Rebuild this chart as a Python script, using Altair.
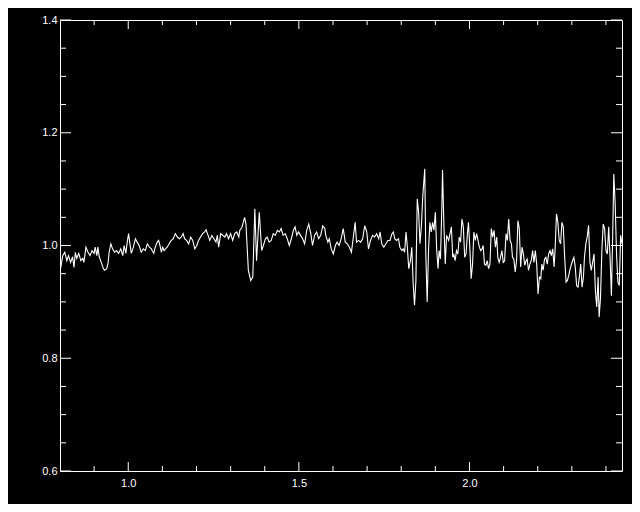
import altair as alt
import pandas as pd

# ---- spectrum samples (wavelength, flux) ----
wave_a = [0.802, 0.808, 0.814, 0.820, 0.825, 0.831, 0.837, 0.841, 0.845, 0.849,
          0.855, 0.861, 0.867, 0.870, 0.876, 0.882, 0.888, 0.894, 0.900, 0.903,
          0.908, 0.911, 0.915, 0.921, 0.927, 0.931, 0.937, 0.941, 0.944, 0.949,
          0.954, 0.960, 0.966, 0.972, 0.978, 0.984, 0.988, 0.993, 0.997, 1.001,
          1.005, 1.009, 1.015, 1.021, 1.026, 1.032, 1.038, 1.044, 1.050, 1.056,
          1.062, 1.068]
flux_a = [0.960, 0.982, 0.988, 0.973, 0.982, 0.970, 0.980, 0.961, 0.988, 0.977,
          0.986, 0.973, 0.977, 0.970, 0.997, 0.988, 0.982, 0.991, 0.986, 0.997,
          0.982, 0.997, 0.980, 0.970, 0.959, 0.956, 0.959, 0.970, 0.988, 1.003,
          0.994, 0.988, 0.991, 0.986, 0.994, 0.982, 1.000, 0.986, 1.006, 1.021,
          1.003, 0.986, 0.997, 1.012, 1.006, 1.000, 0.988, 0.994, 0.991, 1.003,
          0.997, 0.994]

wave_b = [1.070, 1.075, 1.079, 1.085, 1.089, 1.093, 1.097, 1.101, 1.105, 1.109,
          1.114, 1.120, 1.126, 1.132, 1.138, 1.144, 1.150, 1.155, 1.161, 1.165,
          1.171, 1.177, 1.183, 1.189, 1.195, 1.201, 1.206, 1.212, 1.218, 1.224,
          1.228, 1.234, 1.239, 1.245, 1.251, 1.257, 1.261, 1.265, 1.271, 1.277,
          1.283, 1.288, 1.294, 1.300, 1.306, 1.312, 1.318, 1.324, 1.327, 1.333,
          1.337, 1.341, 1.345]
flux_b = [0.991, 0.986, 0.997, 1.006, 1.009, 1.000, 0.988, 0.997, 0.991, 0.994,
          0.997, 1.003, 1.009, 1.012, 1.021, 1.015, 1.012, 1.015, 1.021, 1.012,
          1.009, 1.003, 1.015, 1.009, 0.994, 1.000, 1.009, 1.015, 1.021, 1.024,
          1.028, 1.018, 1.009, 1.018, 1.012, 1.006, 1.018, 0.997, 1.021, 1.018,
          1.015, 1.021, 1.012, 1.021, 1.009, 1.021, 1.024, 1.015, 1.027, 1.032,
          1.041, 1.050, 1.038]

wave_c = [1.352, 1.359, 1.365, 1.371, 1.376, 1.384, 1.391, 1.396, 1.402, 1.407,
          1.413, 1.419, 1.425, 1.431, 1.437, 1.443, 1.448, 1.454, 1.460, 1.466,
          1.472, 1.478, 1.484, 1.489, 1.494, 1.499, 1.505, 1.511, 1.517, 1.523,
          1.529, 1.535, 1.540, 1.546, 1.552, 1.558, 1.564, 1.570, 1.576, 1.579,
          1.585, 1.589, 1.595, 1.601, 1.607, 1.612, 1.618, 1.624]
flux_c = [0.956, 0.938, 0.944, 1.065, 0.973, 1.059, 0.991, 1.000, 1.012, 1.015,
          1.006, 1.009, 1.021, 1.018, 1.027, 1.024, 1.030, 1.018, 1.021, 1.012,
          1.000, 1.012, 1.027, 1.033, 1.018, 1.024, 1.018, 1.012, 1.003, 1.027,
          1.038, 1.021, 1.000, 1.018, 1.024, 1.012, 1.018, 1.035, 1.030, 1.018,
          1.006, 1.012, 0.994, 0.985, 1.000, 1.006, 1.000, 1.012]

wave_d = [1.630, 1.636, 1.642, 1.648, 1.654, 1.659, 1.665, 1.669, 1.675, 1.681,
          1.687, 1.693, 1.699, 1.704, 1.710, 1.716, 1.722, 1.728, 1.734, 1.738,
          1.743, 1.749, 1.755, 1.761]
flux_d = [1.030, 1.006, 1.003, 0.997, 0.988, 1.012, 1.041, 1.006, 1.009, 1.006,
          1.012, 1.035, 1.024, 0.994, 1.009, 1.018, 1.015, 1.021, 1.012, 1.024,
          1.003, 0.997, 1.003, 1.009]

wave_e = [1.767, 1.773, 1.777, 1.781, 1.786, 1.792, 1.796, 1.802, 1.806, 1.810,
          1.814, 1.818, 1.822, 1.827, 1.831, 1.835, 1.839, 1.843, 1.847, 1.851,
          1.855, 1.859, 1.863, 1.869, 1.872, 1.876, 1.880, 1.884, 1.888, 1.892,
          1.896, 1.900, 1.904, 1.908, 1.911, 1.915, 1.919, 1.921, 1.925, 1.929,
          1.933, 1.939,
          1.943, 1.947, 1.951, 1.954, 1.958, 1.962, 1.966, 1.970, 1.974, 1.978,
          1.982, 1.986, 1.990, 1.994, 1.997, 2.001, 2.005, 2.009, 2.013, 2.017,
          2.021, 2.025, 2.029, 2.033, 2.037, 2.040, 2.044, 2.048, 2.052, 2.056,
          2.060, 2.064, 2.068, 2.072, 2.076, 2.080, 2.083, 2.087, 2.091, 2.095,
          2.099, 2.103, 2.107, 2.111, 2.115, 2.119, 2.123, 2.126, 2.130, 2.134,
          2.138, 2.142, 2.146, 2.150, 2.154, 2.158, 2.162, 2.166, 2.169, 2.173,
          2.177, 2.181, 2.185, 2.189, 2.193, 2.197, 2.201, 2.205, 2.209, 2.212,
          2.216, 2.220, 2.224, 2.228, 2.232, 2.236, 2.240, 2.244, 2.248, 2.251,
          2.255, 2.259, 2.263, 2.267, 2.271, 2.275, 2.279, 2.283, 2.287, 2.291,
          2.294, 2.298, 2.302, 2.306, 2.310, 2.314, 2.318, 2.322, 2.326, 2.330,
          2.334, 2.337, 2.341, 2.345, 2.349, 2.353, 2.357, 2.361, 2.365, 2.369,
          2.373, 2.377, 2.380, 2.384, 2.388, 2.392, 2.396, 2.400, 2.404, 2.408,
          2.412, 2.416, 2.420, 2.423, 2.427, 2.431, 2.435, 2.439, 2.443, 2.447]
flux_e = [1.009, 1.021, 1.024, 1.012, 1.009, 1.012, 0.997, 0.991, 0.994, 0.988,
          1.024, 0.997, 0.959, 0.973, 0.997, 0.932, 0.894, 0.938, 1.083, 1.059,
          1.003, 1.033, 1.086, 1.136, 0.985, 0.900, 0.991, 1.041, 1.024, 1.041,
          1.027, 1.059, 0.991, 0.959, 0.991, 0.976, 1.068, 1.134, 1.038, 0.967,
          1.018, 1.009,
          1.021, 1.033, 0.979, 0.985, 0.973, 0.991, 0.985, 1.015, 1.006, 1.047,
          1.033, 0.979, 0.985, 1.021, 1.041, 0.997, 0.941, 0.967, 1.024, 1.009,
          1.021, 1.009, 0.997, 0.991, 0.994, 1.000, 0.967, 0.965, 0.973, 0.959,
          0.967, 1.030, 1.015, 1.027, 0.997, 1.015, 0.979, 0.970, 0.979, 0.991,
          0.970, 0.973, 1.021, 1.009, 1.047, 1.009, 1.003, 0.979, 0.976, 0.953,
          0.973, 1.044, 1.030, 0.962, 0.997, 0.985, 0.965, 0.973, 0.976, 0.956,
          0.967, 0.973, 0.991, 0.970, 0.991, 0.967, 0.914, 0.944, 0.941, 0.967,
          0.956, 0.976, 0.979, 0.967, 0.985, 0.991, 0.982, 0.994, 0.962, 0.994,
          1.056, 1.041, 1.009, 1.003, 1.041, 1.033, 0.979, 0.935, 0.938, 0.947,
          0.956, 0.965, 0.973, 0.979, 0.962, 0.929, 0.926, 0.944, 0.967, 0.926,
          0.944, 0.979, 1.003, 1.015, 1.036, 0.970, 0.956, 0.970, 0.985, 0.920,
          0.891, 0.944, 0.873, 0.908, 0.991, 1.038, 1.030, 0.991, 0.985, 1.033,
          0.979, 0.911, 1.027, 1.127, 1.074, 0.985, 0.935, 0.929, 1.018, 1.003]

# ---- axis ticks ----
x_domain = [0.8, 2.447]
y_domain = [0.6, 1.4]
x_major = [1.0, 1.5, 2.0]
x_minor = [0.9, 1.1, 1.2, 1.3, 1.4, 1.6, 1.7, 1.8, 1.9, 2.1, 2.2, 2.3, 2.4]
y_major = [0.6, 0.8, 1.0, 1.2, 1.4]
y_minor = [0.65, 0.7, 0.75, 0.85, 0.9, 0.95, 1.05, 1.1, 1.15, 1.25, 1.3, 1.35]

W, H = 562, 451

df = pd.DataFrame({
    "w": wave_a + wave_b + wave_c + wave_d + wave_e,
    "f": flux_a + flux_b + flux_c + flux_d + flux_e,
})

xs = alt.Scale(domain=x_domain, nice=False, zero=False)
ys = alt.Scale(domain=y_domain, nice=False, zero=False)

FONT = "Liberation Sans"

x_axis = alt.Axis(values=x_major, format=".1f", ticks=False, domain=False,
                  grid=False, title=None, labelColor="white", labelFont=FONT,
                  labelFontSize=11, labelPadding=6)
y_axis = alt.Axis(values=y_major, format=".1f", ticks=False, domain=False,
                  grid=False, title=None, labelColor="white", labelFont=FONT,
                  labelFontSize=11, labelPadding=3)

line = alt.Chart(df).mark_line(color="white", strokeWidth=1.1, clip=True).encode(
    x=alt.X("w:Q", scale=xs, axis=x_axis),
    y=alt.Y("f:Q", scale=ys, axis=y_axis),
)

xmaj = pd.DataFrame({"w": x_major})
xmin = pd.DataFrame({"w": x_minor})
ymaj = pd.DataFrame({"f": y_major})
ymin = pd.DataFrame({"f": y_minor})


def xtick(data, y0, y1):
    return alt.Chart(data).mark_rule(color="white", strokeWidth=1).encode(
        x=alt.X("w:Q", scale=xs, axis=x_axis), y=alt.value(y0), y2=alt.value(y1))


def ytick(data, x0, x1):
    return alt.Chart(data).mark_rule(color="white", strokeWidth=1).encode(
        y=alt.Y("f:Q", scale=ys, axis=y_axis), x=alt.value(x0), x2=alt.value(x1))


ticks = [
    xtick(xmaj, H, H - 9), xtick(xmaj, 0, 9),
    xtick(xmin, H, H - 5), xtick(xmin, 0, 5),
    ytick(ymaj, 0, 11), ytick(ymaj, W, W - 11),
    ytick(ymin, 0, 6), ytick(ymin, W, W - 6),
]

chart = alt.layer(line, *ticks).properties(
    width=W, height=H,
    background="black",
    autosize=alt.AutoSizeParams(type="none"),
    padding={"left": 52, "top": 12, "right": 10, "bottom": 33},
    usermeta={"embedOptions": {"defaultStyle": "html, body {background: #000 !important;}"}},
).configure_view(stroke="white", strokeWidth=1)

chart.save("out.html", embed_options={"renderer": "svg", "actions": False})
